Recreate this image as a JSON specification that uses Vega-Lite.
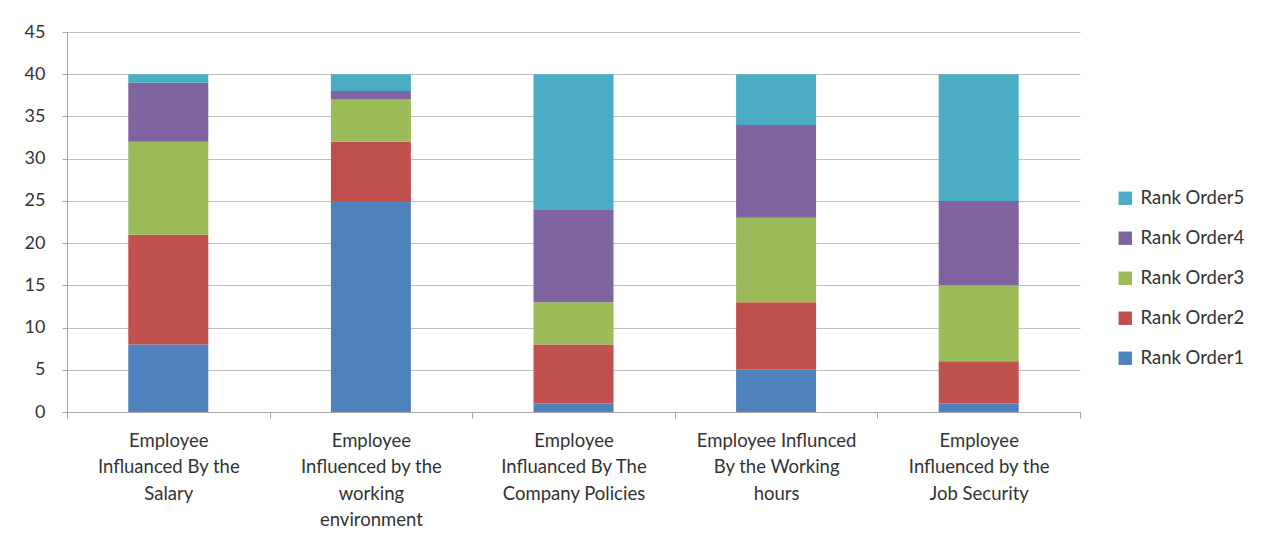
{
  "$schema": "https://vega.github.io/schema/vega-lite/v6.json",
  "width": 1013,
  "height": 380,
  "autosize": {"type": "none"},
  "padding": {"left": 67, "top": 32, "right": 202, "bottom": 132},
  "background": "white",
  "config": {
    "font": "Lato",
    "view": {"stroke": null}
  },
  "data": {
    "values": [
      {"category": "Employee|Influanced By the|Salary", "series": "Rank Order1", "value": 8},
      {"category": "Employee|Influanced By the|Salary", "series": "Rank Order2", "value": 13},
      {"category": "Employee|Influanced By the|Salary", "series": "Rank Order3", "value": 11},
      {"category": "Employee|Influanced By the|Salary", "series": "Rank Order4", "value": 7},
      {"category": "Employee|Influanced By the|Salary", "series": "Rank Order5", "value": 1},
      {"category": "Employee|Influenced by the|working|environment", "series": "Rank Order1", "value": 25},
      {"category": "Employee|Influenced by the|working|environment", "series": "Rank Order2", "value": 7},
      {"category": "Employee|Influenced by the|working|environment", "series": "Rank Order3", "value": 5},
      {"category": "Employee|Influenced by the|working|environment", "series": "Rank Order4", "value": 1},
      {"category": "Employee|Influenced by the|working|environment", "series": "Rank Order5", "value": 2},
      {"category": "Employee|Influanced By The|Company Policies", "series": "Rank Order1", "value": 1},
      {"category": "Employee|Influanced By The|Company Policies", "series": "Rank Order2", "value": 7},
      {"category": "Employee|Influanced By The|Company Policies", "series": "Rank Order3", "value": 5},
      {"category": "Employee|Influanced By The|Company Policies", "series": "Rank Order4", "value": 11},
      {"category": "Employee|Influanced By The|Company Policies", "series": "Rank Order5", "value": 16},
      {"category": "Employee Influnced|By the Working|hours", "series": "Rank Order1", "value": 5},
      {"category": "Employee Influnced|By the Working|hours", "series": "Rank Order2", "value": 8},
      {"category": "Employee Influnced|By the Working|hours", "series": "Rank Order3", "value": 10},
      {"category": "Employee Influnced|By the Working|hours", "series": "Rank Order4", "value": 11},
      {"category": "Employee Influnced|By the Working|hours", "series": "Rank Order5", "value": 6},
      {"category": "Employee|Influenced by the|Job Security", "series": "Rank Order1", "value": 1},
      {"category": "Employee|Influenced by the|Job Security", "series": "Rank Order2", "value": 5},
      {"category": "Employee|Influenced by the|Job Security", "series": "Rank Order3", "value": 9},
      {"category": "Employee|Influenced by the|Job Security", "series": "Rank Order4", "value": 10},
      {"category": "Employee|Influenced by the|Job Security", "series": "Rank Order5", "value": 15}
    ]
  },
  "mark": {"type": "bar", "size": 80},
  "encoding": {
    "x": {
      "field": "category",
      "type": "nominal",
      "sort": null,
      "scale": {"paddingInner": 0, "paddingOuter": 0},
      "axis": {
        "title": null,
        "labelAngle": 0,
        "labelExpr": "isString(datum.value) ? split(datum.value, '|') : ''",
        "labelFont": "Lato",
        "labelFontSize": 18.5,
        "labelColor": "#333333",
        "labelLineHeight": 26.5,
        "labelPadding": 13,
        "labelBaseline": "top",
        "tickBand": "extent",
        "tickSize": 6,
        "tickColor": "#a6a6a6",
        "domainColor": "#a6a6a6",
        "grid": false
      }
    },
    "y": {
      "field": "value",
      "type": "quantitative",
      "aggregate": "sum",
      "stack": "zero",
      "scale": {"domain": [0, 45], "nice": false},
      "axis": {
        "title": null,
        "values": [0, 5, 10, 15, 20, 25, 30, 35, 40, 45],
        "labelFont": "Lato",
        "labelFontSize": 18,
        "labelColor": "#333333",
        "labelPadding": 17,
        "tickSize": 5,
        "tickColor": "#a6a6a6",
        "domainColor": "#a6a6a6",
        "gridColor": "#bfbfbf",
        "gridWidth": 1.2
      }
    },
    "color": {
      "field": "series",
      "type": "nominal",
      "scale": {
        "domain": ["Rank Order5", "Rank Order4", "Rank Order3", "Rank Order2", "Rank Order1"],
        "range": ["#4BACC6", "#8064A2", "#9BBB59", "#C0504D", "#4F81BD"]
      },
      "legend": {
        "title": null,
        "orient": "none",
        "legendX": 1049,
        "legendY": 157,
        "symbolType": "square",
        "symbolSize": 180,
        "symbolStrokeWidth": 0,
        "labelFont": "Lato",
        "labelFontSize": 18.5,
        "labelColor": "#333333",
        "labelOffset": 6,
        "rowPadding": 21,
        "symbolOpacity": 1
      }
    },
    "order": {"field": "series", "sort": "ascending"}
  }
}
